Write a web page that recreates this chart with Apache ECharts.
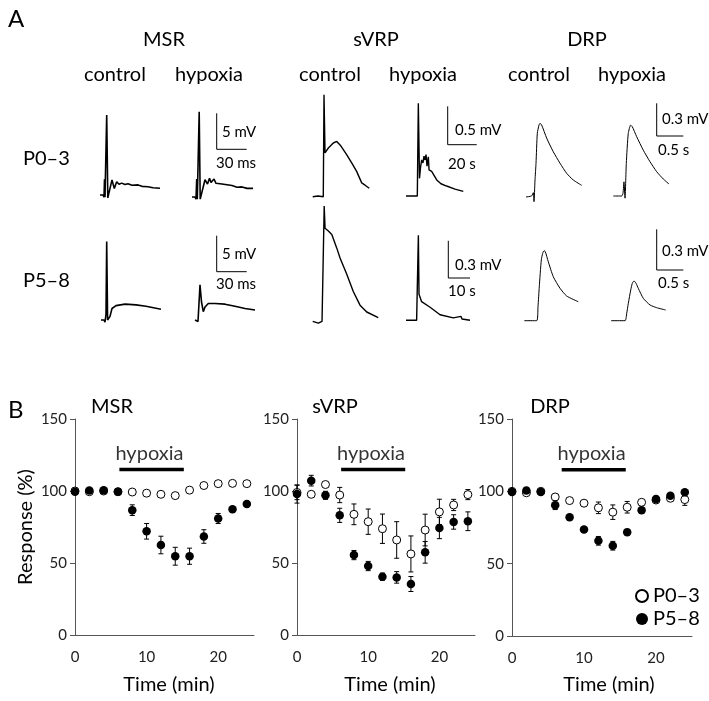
<!DOCTYPE html>
<html>
<head>
<meta charset="utf-8">
<script src="https://cdn.jsdelivr.net/npm/echarts@6/dist/echarts.min.js"></script>
<style>
html,body{margin:0;padding:0;background:#fff;}
#chart{width:709px;height:701px;}
</style>
</head>
<body>
<div id="chart"></div>
<script>
// ---------------- Panel B data ----------------
const timeMin = [0, 2, 4, 6, 8, 10, 12, 14, 16, 18, 20, 22, 24];

const msrP03    = [100, 99.5, 100, 99.5, 99.3, 98.5, 97.7, 96.8, 100.6, 103.8, 105.1, 105.3, 105.1];
const msrP03Err = [0.5, 0.5, 0.5, 0.8, 1, 1, 1, 1.2, 1.2, 1, 1, 1, 1];
const msrP58    = [99.5, 100.3, 100.5, 99.5, 86.7, 72, 62.5, 54.7, 54.7, 68.4, 80.9, 87.4, 91];
const msrP58Err = [0.5, 1, 1, 1, 3.7, 5.4, 6.1, 6.2, 5.6, 4.7, 3.5, 1.5, 1.5];

const svrpP03    = [99, 97.7, 104.5, 97.2, 83.8, 78.7, 73.8, 66, 56.3, 72.9, 85.5, 90.3, 97.5];
const svrpP03Err = [5, 1.5, 1.5, 5.3, 7.2, 8.8, 10.2, 12.7, 12.5, 11, 8.8, 3.9, 3.5];
const svrpP58    = [97.9, 107.2, 97, 83.1, 55.5, 47.9, 40.5, 40, 35.4, 57.4, 74.3, 78.5, 79];
const svrpP58Err = [6.3, 3.7, 2.8, 4.9, 3.2, 3.2, 2.5, 4, 5.2, 7.5, 7.4, 5, 6.5];

const drpP03    = [100, 99, 100, 96.1, 93.6, 91.8, 88.6, 85.6, 89, 92.4, 94, 95.2, 94.3];
const drpP03Err = [0.5, 0.5, 0.5, 1, 1, 1.5, 4, 5, 4, 1.5, 1.5, 1.5, 4];
const drpP58    = [99.5, 100.5, 99.6, 90.4, 82.1, 73.6, 65.8, 62.4, 71.8, 86.9, 94.7, 97, 99.3];
const drpP58Err = [0.5, 0.5, 0.5, 3, 1, 1, 3, 3, 1, 2, 1, 1, 1];

const hypoxiaPeriods = [[6.2, 15.2], [6.2, 15.2], [6.9, 15.8]];   // min
const panelNames = ['MSR', 'sVRP', 'DRP'];
const groupNames = ['P0\u20133', 'P5\u20138'];
const conditionNames = ['control', 'hypoxia'];
const yTicks = [0, 50, 100, 150];
const xTicks = [0, 10, 20];

// ---------------- Panel A traces: [time, voltage] ----------------
// MSR (ms, mV)
const msrCtrlP03 = [[0,0],[3,0],[4,-0.3],[4.5,2.2],[5,-0.3],[5.8,-0.3],[6.7,11.1],[7.8,-0.4],[8.5,-0.3],[12,2.1],[14.3,0.9],[16.7,1.85],[19,1.5],[21.7,1.65],[25,1.45],[28,1.55],[32,1.35],[38,1.4],[42,1.2],[48,1.15],[53,1.0],[60,0.93]];
const msrHypP03  = [[0,0],[3,0],[4,-0.3],[4.7,2.5],[5.3,-0.3],[6.3,-0.3],[7.2,11.85],[8.2,-0.3],[9,-0.2],[13,2.4],[15.5,1.8],[17.5,2.6],[19,2.0],[22,2.5],[24,1.9],[30,1.8],[35,1.7],[40,1.6],[45,1.35],[50,1.4],[55,1.2],[61,1.2]];
const msrCtrlP58 = [[0,0],[3,0],[4,-0.3],[5,0.8],[5.7,10.9],[6.6,0],[8,-0.2],[9,0.5],[11,1.6],[15,2.0],[24,2.2],[35,2.1],[45,1.9],[60,1.5]];
const msrHypP58  = [[0,0],[2,0],[3,-0.2],[5,4.9],[6.5,2.5],[8.3,1.15],[10,1.8],[13.3,2.3],[20,2.3],[30,2.2],[40,1.9],[50,1.6],[60,1.4]];
// sVRP (s, mV)
const svrpCtrlP03 = [[0,0],[3.7,0.01],[7.3,0],[7.8,1.33],[8.5,0.57],[10.8,0.635],[14.2,0.70],[16.6,0.72],[19.5,0.66],[23.4,0.55],[26.9,0.44],[30.3,0.33],[33.8,0.18],[36.1,0.15],[39,0.11]];
const svrpHypP03  = [[0,0],[7.8,0],[8.5,1.21],[9.3,0.23],[10,0.37],[10.8,0.47],[11.7,0.43],[12.4,0.52],[13.1,0.47],[13.8,0.54],[14.5,0.39],[15.4,0.51],[15.9,0.34],[17.7,0.32],[21.2,0.21],[24.1,0.16],[28,0.13],[33.8,0.09],[39.5,0.06]];
const svrpCtrlP58 = [[0,0],[2.6,-0.015],[4.3,0],[5.2,0],[5.3,0.93],[5.7,0.75],[6.1,0.76],[7.1,0.73],[8.8,0.70],[11.1,0.59],[12.6,0.51],[15.7,0.38],[18.7,0.24],[21.8,0.13],[24.9,0.075],[30.2,0.03]];
const svrpHypP58  = [[0,0],[4.9,0],[5.7,0.685],[6.0,0.21],[6.4,0.2],[7.2,0.15],[11.1,0.105],[15.7,0.045],[21.8,0.02],[25.3,0.032],[25.8,0.01],[29.5,0]];
// DRP (s, mV)
const drpCtrlP03 = [[0,0],[0.106,0.01],[0.137,0.04],[0.15,-0.043],[0.169,0.156],[0.188,0.31],[0.212,0.584],[0.244,0.66],[0.263,0.676],[0.294,0.66],[0.388,0.54],[0.512,0.415],[0.638,0.31],[0.763,0.217],[0.887,0.156],[1.045,0.107]];
const drpHypP03  = [[0,0],[0.157,0],[0.182,0.025],[0.2,0.13],[0.22,-0.02],[0.244,0.30],[0.281,0.575],[0.326,0.65],[0.356,0.636],[0.439,0.544],[0.563,0.42],[0.688,0.315],[0.814,0.223],[0.938,0.156],[1.045,0.11]];
const drpCtrlP58 = [[0,0],[0.233,0],[0.257,0.103],[0.281,0.25],[0.319,0.448],[0.345,0.497],[0.37,0.516],[0.394,0.509],[0.45,0.435],[0.544,0.324],[0.67,0.239],[0.795,0.182],[1.013,0.14]];
const drpHypP58  = [[0,0],[0.263,0],[0.295,0.055],[0.325,0.128],[0.37,0.226],[0.4,0.276],[0.432,0.293],[0.469,0.276],[0.512,0.239],[0.606,0.165],[0.732,0.116],[0.857,0.096],[1.026,0.079]];

// scale bars [time, voltage] and their labels
const msrScale  = [30, 5];   const msrScaleLabels  = ['5 mV', '30 ms'];
const svrpScaleP03 = [20, 0.5]; const svrpScaleP03Labels = ['0.5 mV', '20 s'];
const svrpScaleP58 = [10, 0.3]; const svrpScaleP58Labels = ['0.3 mV', '10 s'];
const drpScale  = [0.5, 0.3]; const drpScaleLabels  = ['0.3 mV', '0.5 s'];

// ---------------- build ----------------
const FONT = 'Lato';
const grids = [], xAxes = [], yAxes = [], series = [], graphics = [];

function addTrace(data, x0, y0, sx, sy, lw, smooth) {
  const ts = data.map(d => d[0]), vs = data.map(d => d[1]);
  const tMin = Math.min(...ts), tMax = Math.max(...ts);
  const vMin = Math.min(...vs), vMax = Math.max(...vs);
  const gi = grids.length;
  grids.push({left: x0 + tMin * sx, top: y0 - vMax * sy, width: (tMax - tMin) * sx, height: (vMax - vMin) * sy, outerBoundsMode: 'none'});
  xAxes.push({gridIndex: gi, type: 'value', min: tMin, max: tMax, show: false});
  yAxes.push({gridIndex: gi, type: 'value', min: vMin, max: vMax, show: false});
  series.push({type: 'line', xAxisIndex: gi, yAxisIndex: gi, data: data, symbol: 'none', showSymbol: false,
    clip: false, smooth: smooth || false, silent: true, animation: false,
    lineStyle: {color: '#000', width: lw}});
}
function addScaleBar(bar, labels, cx, cy, sx, sy, labelStyle) {
  const gi = grids.length;
  const T = bar[0], V = bar[1];
  grids.push({left: cx, top: cy - V * sy, width: T * sx, height: V * sy, outerBoundsMode: 'none'});
  xAxes.push({gridIndex: gi, type: 'value', min: 0, max: T, show: false});
  yAxes.push({gridIndex: gi, type: 'value', min: 0, max: V, show: false});
  series.push({type: 'line', xAxisIndex: gi, yAxisIndex: gi, data: [[0, V], [0, 0], [T, 0]], symbol: 'none',
    clip: false, silent: true, animation: false, lineStyle: {color: '#000', width: 1}});
  graphics.push(txt(labels[0], labelStyle.vx, labelStyle.vy, 15, 'left'));
  graphics.push(txt(labels[1], labelStyle.tx, labelStyle.ty, 15, 'left'));
}
function txt(s, x, y, size, align, rot) {
  const g = {type: 'text', x: x, y: y, silent: true,
    style: {text: s, fontSize: size, fontFamily: FONT, fill: '#000', align: align || 'center', verticalAlign: 'middle',
            textAlign: align || 'center', textVerticalAlign: 'middle'}};
  if (rot) g.rotation = rot;
  return g;
}

// MSR traces
addTrace(msrCtrlP03, 100, 195, 1, 7.2, 1.6);
addTrace(msrHypP03, 192, 197, 1, 7.2, 1.6);
addTrace(msrCtrlP58, 101, 320, 1, 7.2, 1.6);
addTrace(msrHypP58, 195, 320, 1, 7.2, 1.6);
addScaleBar(msrScale, msrScaleLabels, 216.7, 149.3, 1, 7.2, {vx: 222, vy: 132, tx: 216, ty: 163});
addScaleBar(msrScale, msrScaleLabels, 216.7, 271.7, 1, 7.2, {vx: 222, vy: 254, tx: 216, ty: 284});
// sVRP traces
addTrace(svrpCtrlP03, 312.7, 196.7, 1.45, 76.7, 1.4);
addTrace(svrpHypP03, 406, 196, 1.45, 76.7, 1.4);
addTrace(svrpCtrlP58, 312.7, 321.3, 2.17, 124, 1.4);
addTrace(svrpHypP58, 406, 320.3, 2.17, 124, 1.4);
addScaleBar(svrpScaleP03, svrpScaleP03Labels, 447.7, 144.7, 1.45, 76.7, {vx: 455, vy: 130, tx: 448, ty: 164});
addScaleBar(svrpScaleP58, svrpScaleP58Labels, 448.3, 278, 2.17, 124, {vx: 455, vy: 265, tx: 448, ty: 291});
// DRP traces
addTrace(drpCtrlP03, 526, 197, 53.3, 109, 1, 0.2);
addTrace(drpHypP03, 613.3, 196, 53.3, 109, 1, 0.2);
addTrace(drpCtrlP58, 524.3, 320.7, 53.3, 135.6, 1, 0.2);
addTrace(drpHypP58, 611, 320.7, 53.3, 135.6, 1, 0.2);
addScaleBar(drpScale, drpScaleLabels, 656.7, 136, 53.3, 109, {vx: 662, vy: 119, tx: 658, ty: 150});
addScaleBar(drpScale, drpScaleLabels, 656.7, 270, 53.3, 135.6, {vx: 662, vy: 251, tx: 658, ty: 283});

// Panel A text
graphics.push(txt('A', 8, 19, 24, 'left'));
const headX = [164, 376, 587];
panelNames.forEach((n, i) => graphics.push(txt(n, headX[i], 40, 20)));
const condX = [[115, 209], [330, 423], [539, 632]];
condX.forEach(pair => pair.forEach((x, j) => graphics.push(txt(conditionNames[j], x, 75, 20))));
graphics.push(txt(groupNames[0], 23, 159, 20, 'left'));
graphics.push(txt(groupNames[1], 23, 281, 20, 'left'));

// ---------------- Panel B ----------------
const panelData = [
  [msrP03, msrP03Err, msrP58, msrP58Err],
  [svrpP03, svrpP03Err, svrpP58, svrpP58Err],
  [drpP03, drpP03Err, drpP58, drpP58Err]
];
const bGrids = [{left: 75, top: 419, width: 179, height: 216}, {left: 297, top: 419, width: 178, height: 216}, {left: 512, top: 419, width: 180, height: 217}];
const hypoxiaLevel = 115;

function errRender(params, api) {
  const x = api.value(0), y = api.value(1), e = api.value(2);
  const top = api.coord([x, y + e]), bot = api.coord([x, y - e]);
  const w = 2.5, st = {stroke: '#000', lineWidth: 1};
  return {type: 'group', children: [
    {type: 'line', shape: {x1: top[0], y1: top[1], x2: bot[0], y2: bot[1]}, style: st},
    {type: 'line', shape: {x1: top[0] - w, y1: top[1], x2: top[0] + w, y2: top[1]}, style: st},
    {type: 'line', shape: {x1: bot[0] - w, y1: bot[1], x2: bot[0] + w, y2: bot[1]}, style: st}
  ]};
}

panelData.forEach((pd, i) => {
  const gi = grids.length;
  grids.push(Object.assign({outerBoundsMode: 'none'}, bGrids[i]));
  xAxes.push({gridIndex: gi, type: 'value', min: 0, max: 25, interval: 10,
    axisLine: {show: true, onZero: false, lineStyle: {color: '#555', width: 1}},
    axisTick: {show: false}, splitLine: {show: false},
    axisLabel: {fontSize: 15, color: '#222', fontFamily: FONT, margin: 15, showMaxLabel: false,
      formatter: v => xTicks.includes(v) ? String(v) : ''}});
  yAxes.push({gridIndex: gi, type: 'value', min: 0, max: 150, interval: 50,
    axisLine: {show: true, lineStyle: {color: '#555', width: 1}},
    axisTick: {show: true, length: 5, lineStyle: {color: '#555'}}, splitLine: {show: false},
    axisLabel: {fontSize: 15, color: '#222', fontFamily: FONT, margin: 8,
      formatter: v => yTicks.includes(v) ? String(v) : ''}});
  const mk = (vals, errs) => timeMin.map((t, k) => [t, vals[k], errs[k]]);
  // P0-3 open
  series.push({type: 'custom', xAxisIndex: gi, yAxisIndex: gi, renderItem: errRender, data: mk(pd[0], pd[1]),
    encode: {x: 0, y: 1}, silent: true, animation: false, z: 2});
  series.push({type: 'scatter', name: groupNames[0], xAxisIndex: gi, yAxisIndex: gi, data: mk(pd[0], pd[1]),
    symbol: 'circle', symbolSize: 8, itemStyle: {color: '#fff', borderColor: '#000', borderWidth: 1, opacity: 1},
    animation: false, z: 3});
  // P5-8 filled
  series.push({type: 'custom', xAxisIndex: gi, yAxisIndex: gi, renderItem: errRender, data: mk(pd[2], pd[3]),
    encode: {x: 0, y: 1}, silent: true, animation: false, z: 4});
  series.push({type: 'scatter', name: groupNames[1], xAxisIndex: gi, yAxisIndex: gi, data: mk(pd[2], pd[3]),
    symbol: 'circle', symbolSize: 8.5, itemStyle: {color: '#000', borderColor: '#000', borderWidth: 0, opacity: 1},
    animation: false, z: 5});
  // hypoxia bar
  const hp = hypoxiaPeriods[i];
  series.push({type: 'line', xAxisIndex: gi, yAxisIndex: gi, data: [[hp[0], hypoxiaLevel], [hp[1], hypoxiaLevel]],
    symbol: 'none', clip: false, silent: true, animation: false, lineStyle: {color: '#000', width: 3.5}});
  series.push({type: 'scatter', xAxisIndex: gi, yAxisIndex: gi, data: [[(hp[0] + hp[1]) / 2 - 0.3, hypoxiaLevel]],
    symbolSize: 0, silent: true, animation: false,
    label: {show: true, position: 'top', distance: 6, formatter: 'hypoxia', fontSize: 20, fontFamily: FONT, color: '#000'}});
});

// Panel B text
graphics.push(txt('B', 8, 410, 24, 'left'));
const bTitleX = [112, 335, 550];
panelNames.forEach((n, i) => graphics.push(txt(n, bTitleX[i], 407, 20)));
graphics.push(txt('Response (%)', 26, 527, 20, 'center', Math.PI / 2));
const timeX = [169, 390, 609];
timeX.forEach(x => graphics.push(txt('Time (min)', x, 685, 20)));

const option = {
  backgroundColor: '#fff',
  animation: false,
  grid: grids, xAxis: xAxes, yAxis: yAxes, series: series,
  graphic: graphics,
  legend: {data: groupNames, orient: 'vertical', left: 630, top: 581, itemGap: 3, itemWidth: 12, itemHeight: 12,
    icon: 'circle', textStyle: {fontSize: 20, fontFamily: FONT, color: '#000'}, selectedMode: false}
};
const chart = echarts.init(document.getElementById('chart'), null, {renderer: 'canvas'});
chart.setOption(option);
</script>
</body>
</html>
